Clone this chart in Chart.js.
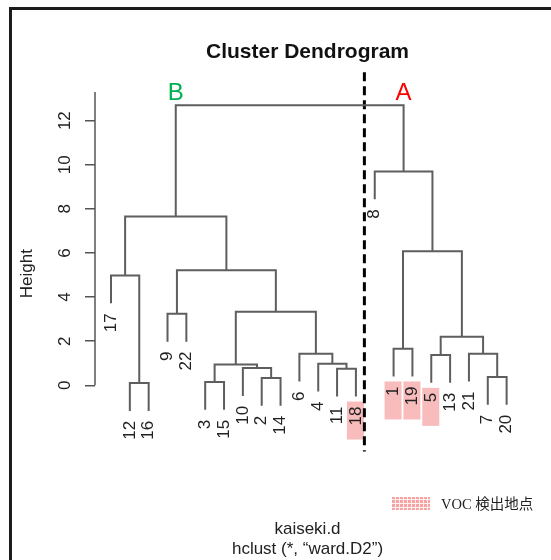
<!DOCTYPE html>
<html>
<head>
<meta charset="utf-8">
<script src="https://cdn.jsdelivr.net/npm/chart.js@4.4.1/dist/chart.umd.min.js"></script>
<style>
  html, body { margin: 0; padding: 0; background: #fff; }
  canvas { display: block; }
</style>
</head>
<body>
<canvas id="dendro" width="551" height="560"></canvas>
<script>
// sites in the order hclust puts them along the bottom
const leafOrder = [17, 12, 16, 9, 22, 3, 15, 10, 2, 14, 6, 4, 11, 18, 8, 1, 19, 5, 13, 21, 7, 20];

// hclust merge table: negative = single site, positive = earlier merge step (1-based)
const mergeLeft = [-12, -3, -7, -2, -11, -10, -4, 2, -5, -21, -6, -1, 9, -9, 8, -17, 14, 12, 16, -8, 19];
const mergeRight = [-16, -15, -20, -14, -18, 4, 5, 6, -13, 3, 7, -19, 10, -22, 11, 1, 15, 13, 17, 18, 20];
const mergeHeight = [0.10, 0.15, 0.38, 0.33, 0.75, 0.78, 0.98, 0.94, 1.37, 1.43, 1.43, 1.66, 2.20, 3.24, 3.33, 4.98, 5.22, 6.08, 7.65, 9.70, 12.70];

const yTicks = [0, 2, 4, 6, 8, 10, 12];
const vocSites = [18, 1, 19, 5];
const clusterNames = ["B", "A"];
const cutX = 14.45;          // between site 18 and site 8
const cutSpan = [-3.0, 14.2];

const FONT = "'Liberation Sans', Arial, sans-serif";

// x of each leaf = its place in the order (1-based like R)
const leafX = {};
leafOrder.forEach((id, i) => { leafX[id] = i + 1; });
const hang = 0.1 * (Math.max(...mergeHeight) - Math.min(...mergeHeight));

const nodeX = [];
const leafBottom = {};
const datasets = [];

function childPos(c, h) {
  if (c < 0) {
    leafBottom[-c] = h - hang;
    return { x: leafX[-c], y: h - hang };
  }
  return { x: nodeX[c - 1], y: mergeHeight[c - 1] };
}

mergeHeight.forEach((h, k) => {
  const l = childPos(mergeLeft[k], h);
  const r = childPos(mergeRight[k], h);
  nodeX[k] = (l.x + r.x) / 2;
  datasets.push({
    data: [l, { x: l.x, y: h }, { x: r.x, y: h }, r],
    showLine: true,
    borderColor: "#5e5e5e",
    borderWidth: 2,
    pointRadius: 0,
    clip: false,
  });
});

// dashed cut line between cluster A and B
datasets.push({
  data: [{ x: cutX, y: cutSpan[1] }, { x: cutX, y: cutSpan[0] }],
  showLine: true,
  borderColor: "#000",
  borderWidth: 3,
  borderDash: [9, 5],
  pointRadius: 0,
  clip: false,
});

function swatchPattern(ctx) {
  const c = document.createElement("canvas");
  c.width = 4;
  c.height = 4;
  const g = c.getContext("2d");
  g.fillStyle = "#f5a3a3";
  g.fillRect(0, 0, 4, 4);
  g.fillStyle = "#fff0f0";
  g.fillRect(3, 0, 1, 4);
  g.fillRect(0, 3, 4, 1);
  return ctx.createPattern(c, "repeat");
}

const dendroExtras = {
  id: "dendroExtras",
  beforeDraw(chart) {
    const ctx = chart.ctx;
    ctx.save();
    ctx.fillStyle = "#fff";
    ctx.fillRect(0, 0, chart.width, chart.height);
    // picture frame (left and top edges)
    ctx.fillStyle = "#1c1c1c";
    ctx.fillRect(9, 7, 3, chart.height);
    ctx.fillRect(9, 7, chart.width, 3);
    ctx.restore();
  },
  beforeDatasetsDraw(chart) {
    const { ctx, scales: { x, y } } = chart;
    ctx.save();
    ctx.fillStyle = "#f8bcbc";
    vocSites.forEach((id) => {
      const px = x.getPixelForValue(leafX[id]);
      const py = y.getPixelForValue(leafBottom[id]);
      ctx.fillRect(px - 9, py + 5, 17, 38);
    });
    ctx.restore();
  },
  afterDatasetsDraw(chart) {
    const { ctx, chartArea, scales: { x, y } } = chart;
    ctx.save();

    // y axis line from 0 up to the top of the plot
    ctx.strokeStyle = "#555";
    ctx.lineWidth = 1.5;
    ctx.beginPath();
    ctx.moveTo(chartArea.left, y.getPixelForValue(0));
    ctx.lineTo(chartArea.left, chartArea.top);
    ctx.stroke();

    // leaf labels, rotated like plot.hclust
    ctx.fillStyle = "#222";
    ctx.font = "17px " + FONT;
    ctx.textAlign = "right";
    ctx.textBaseline = "middle";
    leafOrder.forEach((id) => {
      const px = x.getPixelForValue(leafX[id]);
      const py = y.getPixelForValue(leafBottom[id]);
      ctx.save();
      ctx.translate(px, py + 10);
      ctx.rotate(-Math.PI / 2);
      ctx.fillText(String(id), 0, 0);
      ctx.restore();
    });

    // A / B above the two top clusters
    const root = mergeHeight.length - 1;
    const tops = [mergeLeft[root], mergeRight[root]];
    const colors = ["#00b050", "#ff0000"];
    ctx.font = "24px " + FONT;
    ctx.textAlign = "center";
    ctx.textBaseline = "alphabetic";
    tops.forEach((c, i) => {
      ctx.fillStyle = colors[i];
      ctx.fillText(clusterNames[i], x.getPixelForValue(nodeX[c - 1]), y.getPixelForValue(mergeHeight[root]) - 5);
    });

    // legend for the highlighted sites
    ctx.fillStyle = swatchPattern(ctx);
    ctx.fillRect(392, 497, 38, 13);
    ctx.fillStyle = "#222";
    ctx.font = "14.5px 'Liberation Serif', 'Noto Sans CJK JP', serif";
    ctx.textAlign = "left";
    ctx.textBaseline = "middle";
    ctx.fillText("VOC 検出地点", 441, 505);

    ctx.restore();
  },
};

new Chart(document.getElementById("dendro"), {
  type: "scatter",
  data: { datasets },
  options: {
    responsive: false,
    animation: false,
    events: [],
    layout: { padding: { left: 15, right: 31, top: 0, bottom: 0 } },
    plugins: {
      legend: { display: false },
      tooltip: { enabled: false },
      title: {
        display: true,
        fullSize: false,
        text: "Cluster Dendrogram",
        color: "#111",
        font: { family: FONT, size: 21, weight: "bold" },
        padding: { top: 40, bottom: 26.8 },
      },
      subtitle: {
        display: true,
        fullSize: false,
        position: "bottom",
        text: ["kaiseki.d", "hclust (*, “ward.D2”)"],
        color: "#222",
        font: { family: FONT, size: 17 },
        padding: { top: 64, bottom: 0 },
      },
    },
    scales: {
      x: { type: "linear", display: false, min: 0.151, max: 22.71 },
      y: {
        type: "linear",
        min: -3.17,
        max: 13.3,
        afterBuildTicks: (scale) => {
          scale.ticks = yTicks.map((v) => ({ value: v }));
        },
        afterFit: (scale) => {
          scale.width = 80;
        },
        border: { display: false },
        grid: { drawOnChartArea: false, tickLength: 10, color: "#555", lineWidth: 1.5 },
        ticks: {
          minRotation: 90,
          maxRotation: 90,
          crossAlign: "center",
          padding: 10,
          color: "#222",
          font: { family: FONT, size: 17 },
        },
        title: {
          display: true,
          text: "Height",
          color: "#222",
          font: { family: FONT, size: 17 },
          padding: { top: 2, bottom: 0 },
        },
      },
    },
  },
  plugins: [dendroExtras],
});
</script>
</body>
</html>
